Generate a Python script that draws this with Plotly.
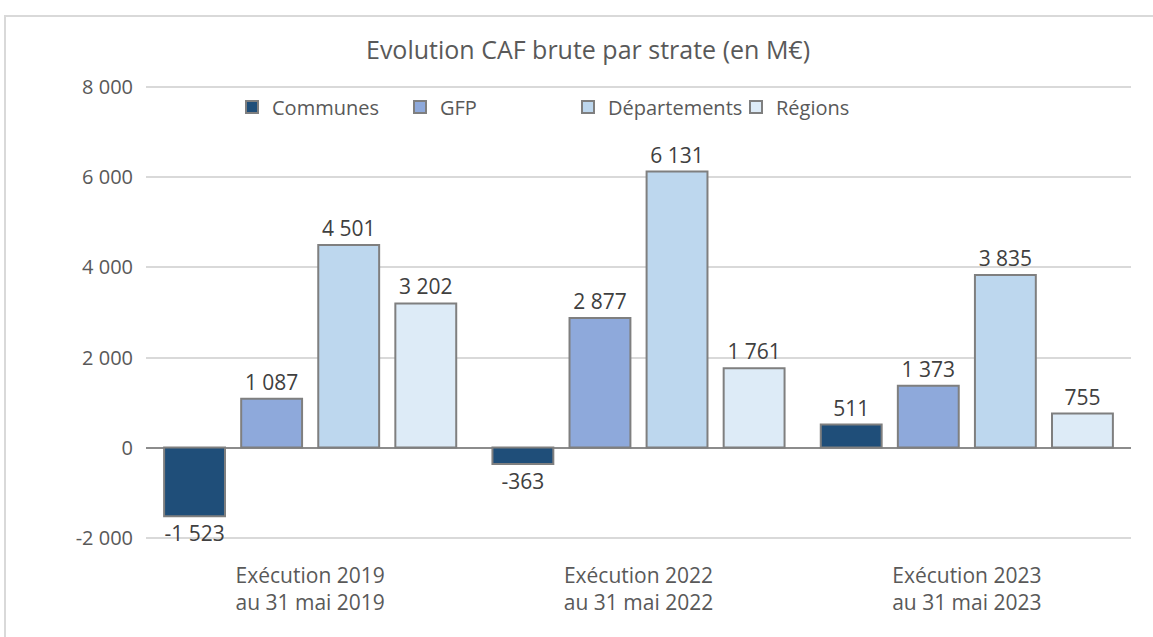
import plotly.graph_objects as go

categories = ["Exécution 2019<br>au 31 mai 2019",
              "Exécution 2022<br>au 31 mai 2022",
              "Exécution 2023<br>au 31 mai 2023"]
series_names = ["Communes", "GFP", "Départements", "Régions"]
communes = [-1523, -363, 511]
gfp = [1087, 2877, 1373]
departements = [4501, 6131, 3835]
regions = [3202, 1761, 755]
series_values = [communes, gfp, departements, regions]
colors = ["#1F4E79", "#8EA9DB", "#BDD7EE", "#DDEBF7"]
tick_values = [-2000, 0, 2000, 4000, 6000, 8000]
title_text = "Evolution CAF brute par strate (en M€)"


def fmt(v):
    return f"{v:,}".replace(",", " ")


FONT = "Open Sans"
TXT = "#595959"

fig = go.Figure()
for name, vals, col in zip(series_names, series_values, colors):
    fig.add_trace(go.Bar(
        name=name, x=categories, y=vals,
        marker=dict(color=col, line=dict(color="#7F7F7F", width=2)),
        text=[fmt(v) for v in vals], textposition="outside",
        textfont=dict(family=FONT, size=21, color="#404040"),
        cliponaxis=False,
    ))

T, B = 86, 98
fig.update_layout(
    width=1153, height=637,
    margin=dict(l=146, r=22, t=T, b=B, autoexpand=False),
    paper_bgcolor="white", plot_bgcolor="white",
    barmode="group", bargap=0.061, bargroupgap=0.21,
    font=dict(family=FONT, color=TXT),
    title=dict(text=title_text, x=0.51, xanchor="center", xref="container",
               y=1 - 50 / 637, yanchor="middle", yref="container",
               font=dict(family=FONT, size=25, color=TXT)),
    legend=dict(orientation="h", x=(232 - 146) / 985, xanchor="left",
                y=(637 - B - 107) / (637 - T - B), yanchor="middle",
                font=dict(family=FONT, size=20, color=TXT), bgcolor="rgba(0,0,0,0)",
                itemwidth=30, traceorder="normal", entrywidth=123, entrywidthmode="pixels"),
    showlegend=True,
)
fig.update_yaxes(range=[-2030, 8030], tickvals=tick_values,
                 ticktext=[fmt(v) for v in tick_values],
                 showgrid=True, gridcolor="#D9D9D9", gridwidth=1.5,
                 zeroline=True, zerolinecolor="#8C8C8C", zerolinewidth=2,
                 showline=False, ticks="", ticklabelstandoff=12, automargin=False,
                 tickfont=dict(family=FONT, size=20, color=TXT))
fig.update_xaxes(showline=False, ticks="", showgrid=False, automargin=False,
                 tickfont=dict(family=FONT, size=21, color=TXT), ticklabelstandoff=22)

# chart frame
fig.add_shape(type="rect", xref="paper", yref="paper",
              x0=(5 - 146) / 985, x1=1.2, y0=-0.4, y1=(637 - B - 16) / (637 - T - B),
              line=dict(color="#D9D9D9", width=2), fillcolor="rgba(0,0,0,0)", layer="below")

fig.write_html("out.html", config={"displayModeBar": False},
               post_script="document.body.style.margin='0';")
